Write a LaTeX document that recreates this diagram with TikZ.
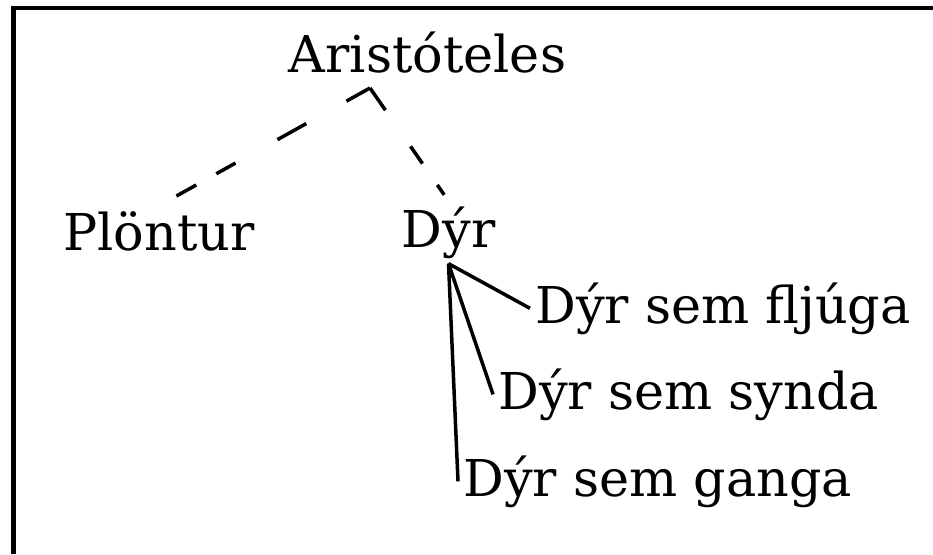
\documentclass[tikz,border=0pt]{standalone}
\usepackage{fontspec}
\newfontfamily\treefont{DejaVu Serif}
\usepackage{tikz}
\usetikzlibrary{positioning}

\begin{document}
\begin{tikzpicture}[
    taxon/.style={font={\treefont\fontsize{28.9}{34}\selectfont}, inner sep=0.1cm, text=black},
    branch/.style={draw=black, line width=0.07cm},
    splitline/.style={branch, dash pattern=on 0.54cm off 0.92cm on 0.66cm off 0.96cm on 0.44cm off 0.46cm}]
    \useasboundingbox (0,0) rectangle (18.66,-11.08);
    \draw [line width=0.09cm] (0.27,-11.08) |- (18.66,-0.16);

    \node (aristoteles) [taxon, anchor=base] at (8.55,-1.44) {Aristóteles};
    \coordinate [below left=0.32cm and 1.15cm of aristoteles.base] (split);

    \node (plontur) [taxon, below left=3.56cm and 5.37cm of aristoteles.base, anchor=base] {Plöntur};
    \node (dyr) [taxon, below right=3.5cm and 0.42cm of aristoteles.base, anchor=base] {Dýr};

    \node (fljuga) [taxon, below right=1.52cm and 1.63cm of dyr.base, anchor=base west] {Dýr sem fljúga};
    \node (synda) [taxon, below left=1.72cm and 0.74cm of fljuga.base west, anchor=base west] {Dýr sem synda};
    \node (ganga) [taxon, below left=1.74cm and 0.70cm of synda.base west, anchor=base west] {Dýr sem ganga};

    \draw [splitline, shorten >=0.4cm] (split) -- (plontur.north);
    \draw [branch, dash pattern=on 0.54cm off 0.88cm on 0.42cm off 0.52cm, shorten >=0.15cm] (split) -- (dyr.north);

    \draw [branch] (dyr.south) -- (fljuga.west);
    \draw [branch] (dyr.south) -- (synda.west);
    \draw [branch] (dyr.south) -- (ganga.west);
\end{tikzpicture}
\end{document}
